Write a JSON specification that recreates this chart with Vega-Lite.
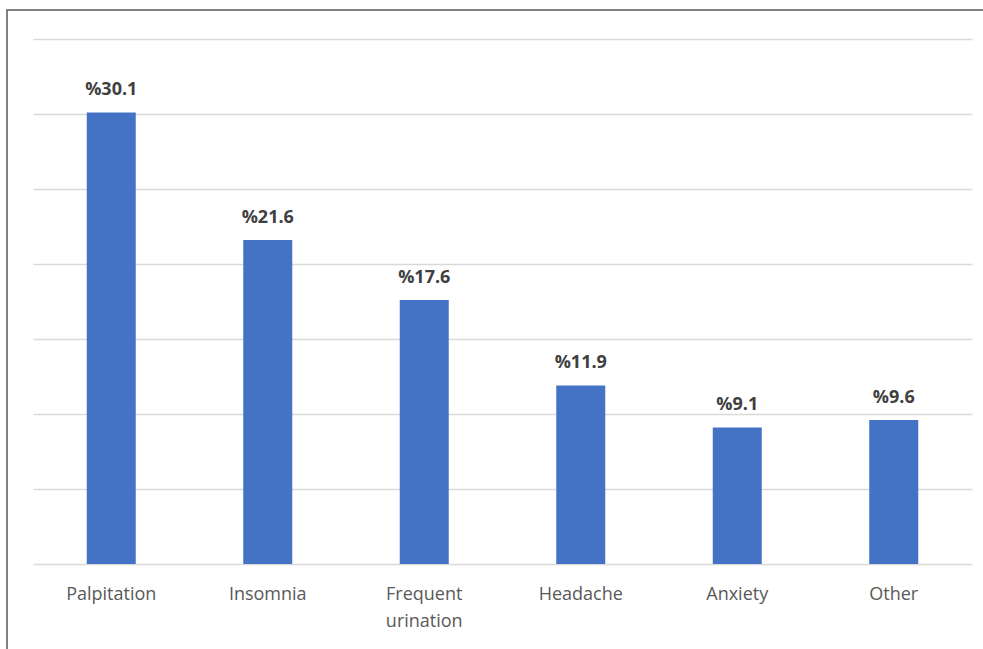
{
  "$schema": "https://vega.github.io/schema/vega-lite/v6.json",
  "width": 980,
  "height": 645,
  "autosize": {"type": "none"},
  "padding": {"left": 7, "top": 10, "right": 0, "bottom": 0},
  "background": "#ffffff",
  "config": {
    "font": "Open Sans",
    "view": {"stroke": "#5a5a5a", "strokeWidth": 1.5}
  },
  "data": {
    "values": [
      {"symptom": "Palpitation", "value": 30.1},
      {"symptom": "Insomnia", "value": 21.6},
      {"symptom": "Frequent urination", "value": 17.6},
      {"symptom": "Headache", "value": 11.9},
      {"symptom": "Anxiety", "value": 9.1},
      {"symptom": "Other", "value": 9.6}
    ]
  },
  "transform": [
    {"calculate": "'%' + format(datum.value, '.1f')", "as": "label"}
  ],
  "encoding": {
    "x": {
      "field": "symptom",
      "type": "nominal",
      "sort": null,
      "scale": {"range": [26, 965], "paddingInner": 0, "paddingOuter": 0},
      "axis": {
        "title": null,
        "domain": false,
        "ticks": false,
        "labelAngle": 0,
        "offset": -91,
        "labelPadding": 21,
        "labelFontSize": 18,
        "labelColor": "#595959",
        "labelLineHeight": 27,
        "labelExpr": "split(datum.value, ' ')"
      }
    },
    "y": {
      "field": "value",
      "type": "quantitative",
      "scale": {"domain": [-6.067, 36.933], "nice": false, "zero": false},
      "axis": {
        "title": null,
        "labels": false,
        "ticks": false,
        "domain": false,
        "grid": true,
        "gridColor": "#d9d9d9",
        "gridWidth": 1.3,
        "values": [0, 5, 10, 15, 20, 25, 30, 35]
      }
    }
  },
  "layer": [
    {
      "mark": {"type": "bar", "size": 49, "color": "#4472C4"},
      "encoding": {"y2": {"datum": 0}}
    },
    {
      "mark": {
        "type": "text",
        "baseline": "alphabetic",
        "dy": -17,
        "fontSize": 18,
        "fontWeight": "bold",
        "color": "#404040"
      },
      "encoding": {"text": {"field": "label"}}
    }
  ]
}
